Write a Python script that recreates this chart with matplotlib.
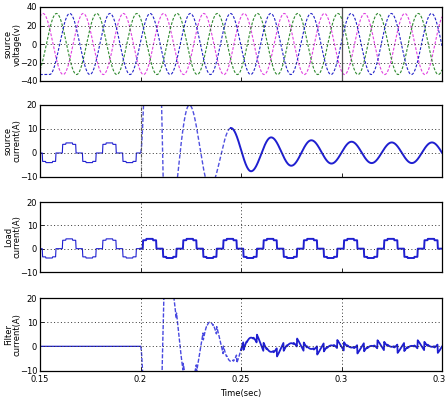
import numpy as np
import matplotlib
matplotlib.use('Agg')
import matplotlib.pyplot as plt

# ---- values ----
t_start, t_end = 0.15, 0.35
x_ticks = [0.15, 0.2, 0.25, 0.3, 0.35]
x_tick_labels = ['0.15', '0.2', '0.25', '0.3', '0.35']

# three phase source voltage: peak (V), half period (s), time of first peak per phase
voltage_peak = 33.0
half_period = 0.01
voltage_first_peak = {'a': 0.1515, 'b': 0.1582, 'c': 0.1648}
voltage_colors = {'a': '#e040e0', 'b': '#2f8a2f', 'c': '#2222c8'}

# load current: one cycle of the six-pulse staircase, 30 degree segments,
# cycle begins at the start of a positive block
load_cycle_start = 0.1411
load_segment_levels = [3.6, 4.2, 4.2, 3.6, 0.0, 0.0,
                       -3.5, -4.0, -4.0, -3.5, 0.0, 0.0]

# source current after compensation switch-on at t = 0.2 (extrema of the transient)
switch_on = 0.2
source_ext_times = [0.2000, 0.2030, 0.2095, 0.2125, 0.2243, 0.2345, 0.2450,
                    0.2550, 0.2650, 0.2750, 0.2850, 0.2950, 0.3050, 0.3150,
                    0.3250, 0.3350, 0.3450, 0.3550]
source_ext_values = [0.0, 40.0, 40.0, -40.0, 20.0, -14.0, 10.4,
                     -7.6, 6.5, -5.3, 5.3, -4.4, 4.7, -4.2,
                     4.4, -4.2, 4.4, -4.2]


def through_extrema(t, times, values):
    times = np.asarray(times)
    values = np.asarray(values)
    i = np.clip(np.searchsorted(times, t, side='right') - 1, 0, len(times) - 2)
    u = np.clip((t - times[i]) / (times[i + 1] - times[i]), 0, 1)
    return values[i] + (values[i + 1] - values[i]) * (1 - np.cos(np.pi * u)) / 2


t = np.linspace(t_start, t_end, 8001)

# voltages drawn through their alternating peaks
voltages = {}
for ph, tp in voltage_first_peak.items():
    ext_t = [tp - half_period + k * half_period for k in range(23)]
    ext_v = [voltage_peak * (-1) ** (k + 1) for k in range(23)]
    voltages[ph] = through_extrema(t, ext_t, ext_v)

# staircase load current with short ramps at each step
seg = 0.02 / len(load_segment_levels)
ramp = 0.00015
bp_t, bp_v = [], []
n_cycles = 12
for c in range(n_cycles):
    for k, lev in enumerate(load_segment_levels):
        s = load_cycle_start + c * 0.02 + k * seg
        bp_t += [s + ramp, s + seg]
        bp_v += [lev, lev]
load_current = np.interp(t, bp_t, bp_v)

source_current = np.where(t < switch_on, load_current,
                          through_extrema(t, source_ext_times, source_ext_values))
# filter current by current balance at the point of common coupling
filter_current = load_current - source_current

# ---- figure ----
W, H = 445, 404
fig = plt.figure(figsize=(W / 100, H / 100), dpi=100)
boxes = [(7, 81), (105, 177), (202, 272), (298, 370.5)]
axes = [fig.add_axes([40 / W, 1 - b / H, 402 / W, (b - tp) / H]) for tp, b in boxes]

blue = '#1f1fd0'
grid_kw = dict(color='#333333', linestyle=(0, (1, 2.5)), linewidth=0.7)
lab_kw = dict(fontsize=6, linespacing=1.0)

ax = axes[0]
for ph in ['a', 'b', 'c']:
    ax.plot(t, voltages[ph], color=voltage_colors[ph], lw=0.8, linestyle=(0, (2.5, 1.5)))
ax.set_ylim(-40, 40)
ax.set_yticks([-40, -20, 0, 20, 40])
for y in [-20, 0, 20]:
    ax.axhline(y, **grid_kw)
ax.axvline(0.3, color='#555555', lw=0.9)
ax.set_ylabel('source\nvoltage(v)', **lab_kw)

ax = axes[1]
pre = t <= switch_on
mid = (t >= switch_on) & (t <= 0.245)
post = t >= 0.245
ax.plot(t[pre], source_current[pre], color=blue, lw=0.8)
ax.plot(t[mid], source_current[mid], color='#5050e0', lw=1.0, linestyle=(0, (3, 1.5)))
ax.plot(t[post], source_current[post], color=blue, lw=1.4)
ax.axvline(0.2, color='#555555', lw=0.8, linestyle=(0, (3, 1, 1, 1)))
ax.set_ylabel('source\ncurrent(A)', **lab_kw)

ax = axes[2]
ax.plot(t[pre], load_current[pre], color=blue, lw=0.8)
ax.plot(t[~pre], load_current[~pre], color=blue, lw=1.4)
for xv in [0.2, 0.25]:
    ax.axvline(xv, **grid_kw)
ax.set_ylabel('Load\ncurrent(A)', **lab_kw)

ax = axes[3]
mid4 = (t >= switch_on) & (t <= 0.25)
post4 = t >= 0.25
ax.plot(t[pre], filter_current[pre], color=blue, lw=0.9)
ax.plot(t[mid4], filter_current[mid4], color='#4848e0', lw=1.0, linestyle=(0, (3, 1.2)))
ax.plot(t[post4], filter_current[post4], color=blue, lw=1.3)
for xv in [0.2, 0.25, 0.3]:
    ax.axvline(xv, **grid_kw)
ax.set_ylabel('Filter\ncurrent(A)', **lab_kw)
ax.set_xlabel('Time(sec)', fontsize=6, labelpad=3)

for i, ax in enumerate(axes):
    ax.set_xlim(t_start, t_end)
    if i > 0:
        ax.set_ylim(-10, 20)
        ax.set_yticks([-10, 0, 10, 20])
        for y in [0, 10]:
            ax.axhline(y, **grid_kw)
    ax.set_xticks(x_ticks)
    if i == 3:
        ax.set_xticklabels(x_tick_labels)
    else:
        ax.set_xticklabels([])
    ax.tick_params(direction='in', length=3, width=0.6, labelsize=6, pad=2)
    ax.tick_params(axis='x', pad=3.5)
    ax.yaxis.set_label_coords(-0.045, 0.5)
    for sp in ax.spines.values():
        sp.set_linewidth(0.9)

fig.savefig('out.png', dpi=100)
